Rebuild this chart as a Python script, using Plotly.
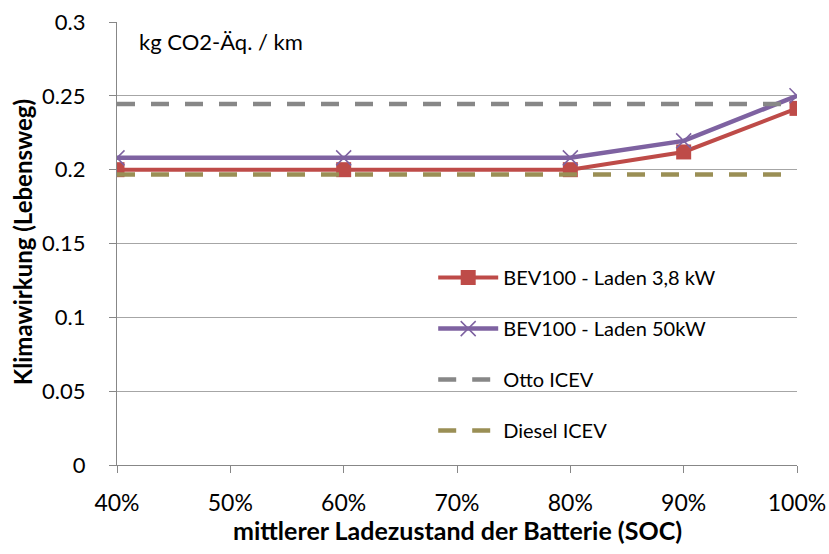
import plotly.graph_objects as go

# Mittlerer Ladezustand (SOC) in %
soc = [40, 60, 80, 90, 100]
bev_38kw = [0.200, 0.200, 0.200, 0.212, 0.2415]
bev_50kw = [0.208, 0.208, 0.208, 0.2195, 0.250]
otto_x = [40, 100]
otto = [0.2445, 0.2445]
diesel_x = [40, 100]
diesel = [0.1967, 0.1967]

x_ticks = [40, 50, 60, 70, 80, 90, 100]
x_ticktext = ["40%", "50%", "60%", "70%", "80%", "90%", "100%"]
y_ticks = [0, 0.05, 0.1, 0.15, 0.2, 0.25, 0.3]
y_ticktext = ["0", "0.05", "0.1", "0.15", "0.2", "0.25", "0.3"]

x_title = "mittlerer Ladezustand der Batterie (SOC)"
y_title = "Klimawirkung (Lebensweg)"
unit_label = "kg CO2-Äq. / km"

FONT = "Lato, 'Open Sans', sans-serif"
RED = "#BE4B48"
PURPLE = "#7E62A1"
GREY = "#878787"
OLIVE = "#9A8F55"
GRID = "#A6A6A6"

fig = go.Figure()

fig.add_trace(go.Scatter(
    x=soc, y=bev_38kw, name="BEV100 - Laden 3,8 kW", mode="lines+markers",
    line=dict(color=RED, width=4),
    marker=dict(symbol="square", size=15, color=RED),
    legendgroup="a",
))
fig.add_trace(go.Scatter(
    x=soc, y=bev_50kw, name="BEV100 - Laden 50kW", mode="lines+markers",
    line=dict(color=PURPLE, width=4.5),
    marker=dict(symbol="x-thin", size=15, color=PURPLE,
                line=dict(color=PURPLE, width=1.5)),
    legendgroup="b",
))
fig.add_trace(go.Scatter(
    x=otto_x, y=otto, name="Otto ICEV", mode="lines",
    line=dict(color=GREY, width=4.5, dash="18px,16px"),
    legendgroup="c",
))
fig.add_trace(go.Scatter(
    x=diesel_x, y=diesel, name="Diesel ICEV", mode="lines",
    line=dict(color=OLIVE, width=4.5, dash="18px,16px"),
    legendgroup="d",
))

# white legend box hiding the gridlines behind the legend
fig.add_shape(
    type="rect", xref="paper", yref="y",
    x0=0.3618, x1=0.9868, y0=0.008, y1=0.142,
    fillcolor="white", line=dict(width=0), layer="between",
)

# unit label inside the plot area
fig.add_annotation(
    x=0.029, y=0.955, xref="paper", yref="paper", xanchor="left", yanchor="middle",
    text=unit_label, showarrow=False,
    font=dict(family=FONT, size=22, color="#000"),
)
# axis titles
fig.add_annotation(
    x=0.5, y=-0.1467, xref="paper", yref="paper", xanchor="center", yanchor="middle",
    text=f"<b>{x_title}</b>", showarrow=False,
    font=dict(family=FONT, size=25, color="#000"),
)
fig.add_annotation(
    x=-0.1397, y=0.503, xref="paper", yref="paper", xanchor="center", yanchor="middle",
    text=f"<b>{y_title}</b>", showarrow=False, textangle=-90,
    font=dict(family=FONT, size=24, color="#000"),
)

fig.update_layout(
    width=829, height=554,
    margin=dict(l=117, r=32, t=22, b=89),
    paper_bgcolor="white", plot_bgcolor="white",
    font=dict(family=FONT, size=21, color="#000"),
    legend=dict(
        x=0.465, y=0.467, xanchor="left", yanchor="top",
        bgcolor="rgba(0,0,0,0)", borderwidth=0,
        itemwidth=60, tracegroupgap=22,
        font=dict(family=FONT, size=20, color="#000"),
    ),
    xaxis=dict(
        range=[40, 100], tickvals=x_ticks, ticktext=x_ticktext,
        showgrid=False, zeroline=False, automargin=False,
        showline=True, linecolor=GREY, linewidth=1.3,
        ticks="outside", ticklen=7, tickcolor=GREY, ticklabelstandoff=10,
        tickfont=dict(size=23),
    ),
    yaxis=dict(
        range=[0, 0.3], tickvals=y_ticks, ticktext=y_ticktext,
        showgrid=True, gridcolor=GRID, gridwidth=1.3, zeroline=False,
        automargin=False,
        showline=True, linecolor=GREY, linewidth=1.3,
        ticks="outside", ticklen=7, tickcolor=GREY, ticklabelstandoff=19,
        tickfont=dict(size=22),
    ),
)

fig.write_html("out.html")
